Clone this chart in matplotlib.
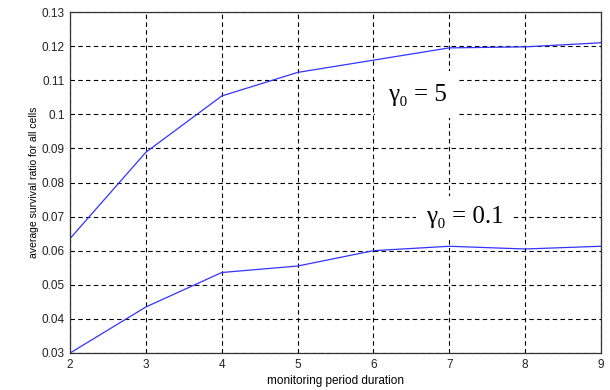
import matplotlib
matplotlib.use('Agg')
import matplotlib.pyplot as plt

# monitoring period durations
x = [2, 3, 4, 5, 6, 7, 8, 9]
# gamma0 = 5
y_g5 = [0.0636, 0.0889, 0.1054, 0.1123, 0.1159, 0.1195, 0.1198, 0.1210]
# gamma0 = 0.1
y_g01 = [0.0300, 0.0435, 0.0536, 0.0555, 0.0600, 0.0613, 0.0605, 0.0613]

yticks = [0.03, 0.04, 0.05, 0.06, 0.07, 0.08, 0.09, 0.1, 0.11, 0.12, 0.13]
ytick_labels = ['0.03', '0.04', '0.05', '0.06', '0.07', '0.08', '0.09', '0.1', '0.11', '0.12', '0.13']

plt.rcParams['font.family'] = ['Liberation Sans', 'DejaVu Sans']

fig = plt.figure(figsize=(6.1, 3.9), dpi=100)
ax = fig.add_axes([0.115, 0.095, 0.870, 0.874])

ax.plot(x, y_g5, color='#3333ff', linewidth=0.9)
ax.plot(x, y_g01, color='#3333ff', linewidth=0.9)

ax.set_xlim(2, 9)
ax.set_ylim(0.03, 0.13)
ax.set_xticks(x)
ax.set_yticks(yticks)
ax.set_yticklabels(ytick_labels)
ax.tick_params(labelsize=8.5, length=0, pad=4, colors='#222222')
ax.grid(True, color='black', linestyle=(0, (4, 3)), linewidth=0.8)
for s in ax.spines.values():
    s.set_color('#333333')
    s.set_linewidth(0.9)

ax.set_xlabel('monitoring period duration', fontsize=8.5, labelpad=3)
ax.set_ylabel('average survival ratio for all cells', fontsize=7.5, labelpad=2)

serif = ['Liberation Serif', 'DejaVu Serif']
ax.text(6.58, 0.1057, 'γ₀ = 5', family=serif, fontsize=18, ha='center', va='center',
        bbox=dict(facecolor='white', edgecolor='none', pad=9), zorder=5)
ax.text(7.2, 0.0700, 'γ₀ = 0.1', family=serif, fontsize=18, ha='center', va='center',
        bbox=dict(facecolor='white', edgecolor='none', pad=7), zorder=5)

fig.savefig('out.png', dpi=100)
